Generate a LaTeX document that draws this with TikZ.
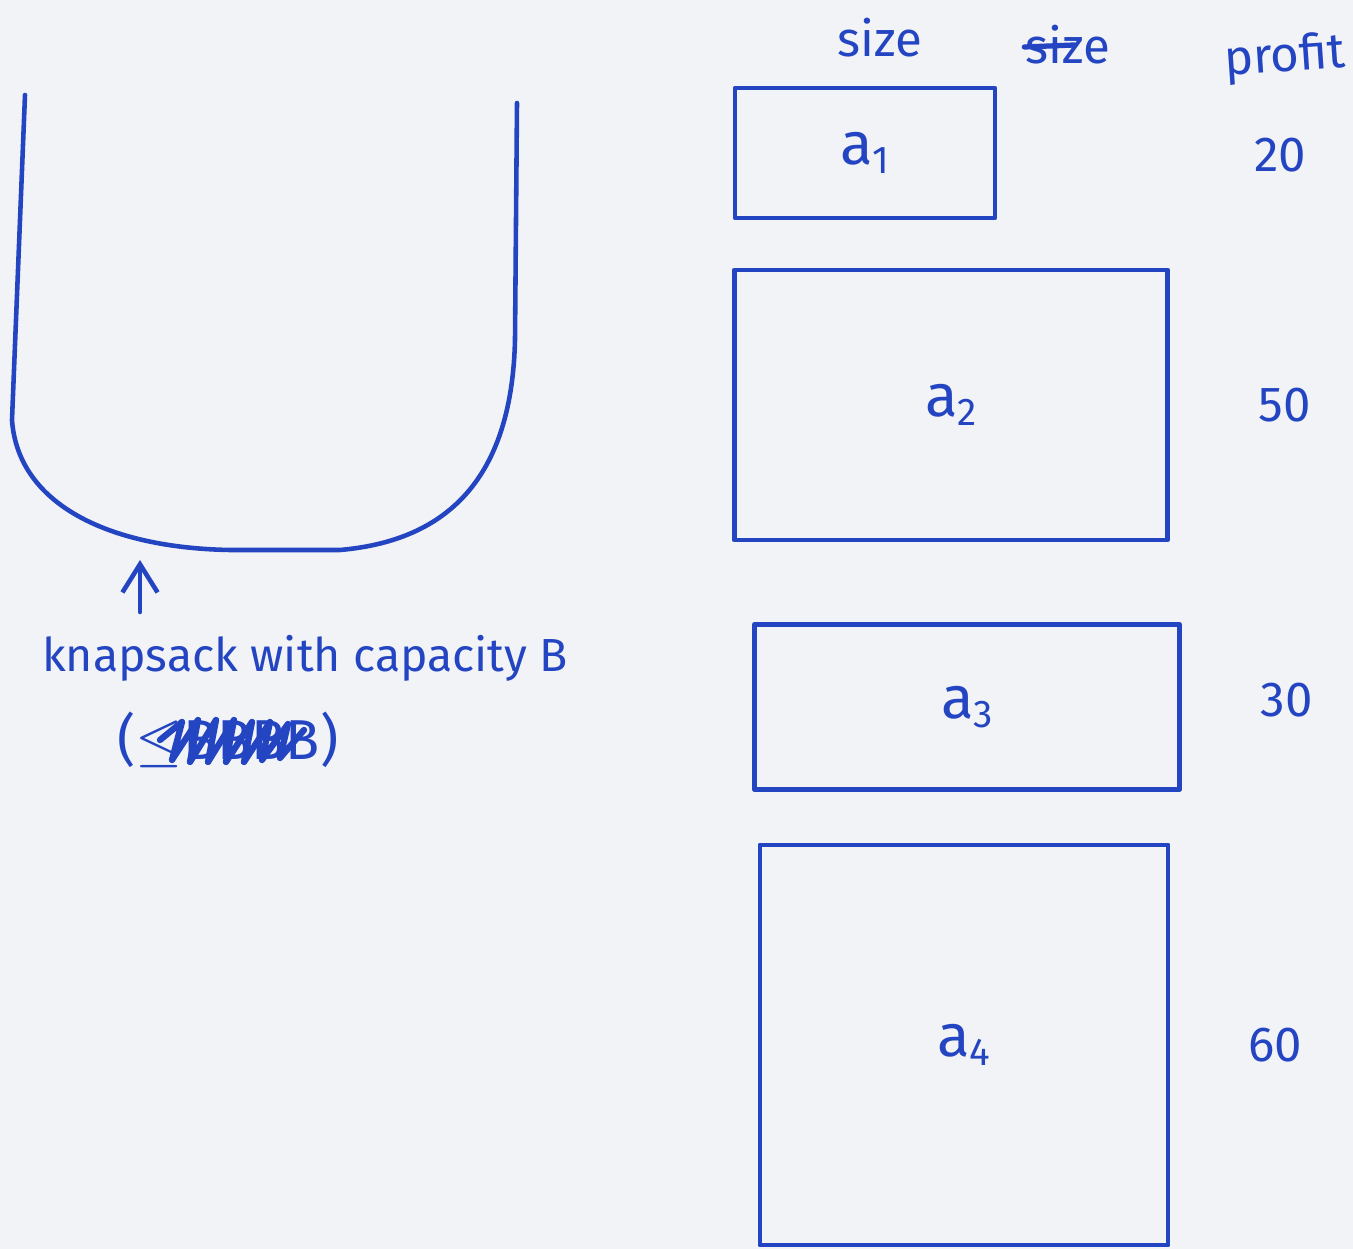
\documentclass[tikz,border=0pt]{standalone}
\usepackage{fontspec}
\setmainfont{Fira Sans}
\usetikzlibrary{arrows.meta}
\definecolor{paper}{HTML}{F2F3F7}
\definecolor{pen}{HTML}{2445C2}
\newcommand{\subidx}[1]{{\fontsize{11}{11}\selectfont\raisebox{-0.45ex}{#1}}}
\tikzset{
  ink/.style={draw=pen, line width=1.3pt, line cap=round, line join=round},
  itembox/.style={ink, rectangle, inner sep=0pt, text=pen, font=\fontsize{17}{17}\selectfont},
  hand/.style={text=pen, inner sep=1pt, font=\fontsize{13.2}{13.2}\selectfont},
  head/.style={text=pen, inner sep=1pt, font=\fontsize{14}{14}\selectfont},
}
\begin{document}
\begin{tikzpicture}[x=0.01cm, y=-0.01cm]
\fill[paper] (0,0) rectangle (1353,1249);
\useasboundingbox (0,0) rectangle (1353,1249);

% knapsack
\coordinate (kl) at (25,95);
\coordinate (kr) at (517,103);
\draw[ink] (kl) -- (12,420) .. controls (18,505) and (110,548) .. (230,550)
  -- (340,550) .. controls (455,540) and (512,470) .. (515,340) -- (kr);

% label and arrow
\node[hand] (klabel) at (305,658) {knapsack with capacity B};
\coordinate (atip) at (140,560);
\coordinate (abase) at (140,612);
\draw[ink, -{Straight Barb[length=8pt,width=10pt]}] (abase) -- (atip);

% crossed-out note
\node[hand, font=\fontsize{16}{16}\selectfont] (note) at (228,740) {($\leq$BBBB)};
\draw[draw=pen, line width=1.8pt, line cap=round, line join=round]
  (160,740) -- (182,722) -- (172,760) -- (198,720) -- (190,762) -- (216,720)
  -- (208,762) -- (234,720) -- (226,762) -- (252,722) -- (244,762) -- (270,722)
  -- (262,760) -- (288,724) -- (280,758) -- (304,730);

% headers
\node[head] (h1) at (880,38) {size};
\node[head] (h2) at (1068,45) {size};
\draw[draw=pen, line width=1.5pt, line cap=round] (h2.west) ++(3,2) -- ++(50,-2);
\node[head, rotate=4] (h3) at (1285,58) {profit};

% items
\node[itembox, minimum width=2.6cm, minimum height=1.3cm] (a1) at (865,153) {a\subidx{1}};
\node[itembox, minimum width=4.33cm, minimum height=2.7cm] (a2) at (951,405) {a\subidx{2}};
\node[itembox, minimum width=4.25cm, minimum height=1.65cm] (a3) at (967,707) {a\subidx{3}};
\node[itembox, minimum width=4.08cm, minimum height=4.0cm] (a4) at (964,1045) {a\subidx{4}};

% profits
\node[head] (p1) at (1280,155) {20};
\node[head] (p2) at (1285,405) {50};
\node[head] (p3) at (1287,700) {30};
\node[head] (p4) at (1275,1045) {60};
\end{tikzpicture}
\end{document}
